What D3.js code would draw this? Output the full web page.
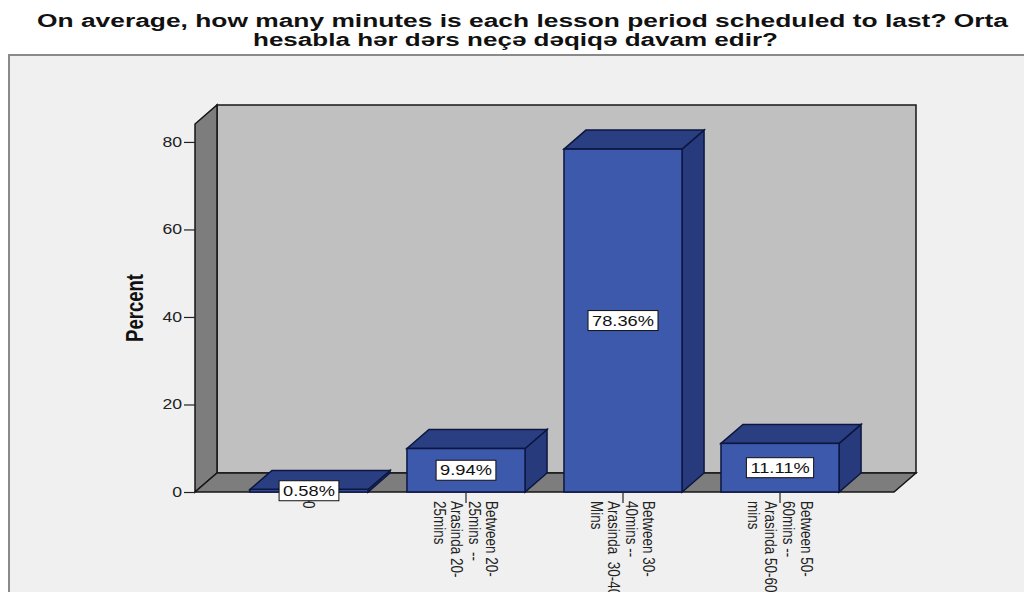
<!DOCTYPE html>
<html>
<head>
<meta charset="utf-8">
<script src="https://cdn.jsdelivr.net/npm/d3@7"></script>
<style>
  html, body { margin: 0; padding: 0; background: #ffffff; }
  svg { display: block; }
  text { font-family: "Liberation Sans", Arial, sans-serif; }
</style>
</head>
<body>
<svg id="chart" width="1024" height="592"></svg>
<script>
// ---- data ----
const titleLines = [
  "On average, how many minutes is each lesson period scheduled to last? Orta",
  "hesabla hər dərs neçə dəqiqə davam edir?"
];
const categories = ["0", "20-25", "30-40", "50-60"];
const categoryLabels = [
  ["0"],
  ["Between 20-", "25mins  --", "Arasinda 20-", "25mins"],
  ["Between 30-", "40mins --", "Arasinda  30-40", "Mins"],
  ["Between 50-", "60mins --", "Arasinda 50-60", "mins"]
];
const percents = [0.58, 9.94, 78.36, 11.11];
const valueLabels = ["0.58%", "9.94%", "78.36%", "11.11%"];
const yTicks = [0, 20, 40, 60, 80];
const yLabel = "Percent";

// ---- layout ----
const svg = d3.select("#chart");
const SX = 1.26;            // horizontal stretch used for all lettering
const DX = 22, DY = -19;    // 3D depth offset
const left = 195, right = 894, baseY = 492, topY = 124;

const x = d3.scaleBand().domain(categories).range([left, right])
  .paddingInner(0.248).paddingOuter(0.35);
const y = d3.scaleLinear().domain([0, 84.1]).range([baseY, topY]);

// outer frame
svg.append("rect").attr("x", 9).attr("y", 55).attr("width", 1030).attr("height", 560)
  .attr("fill", "#f0f0f0").attr("stroke", "#8a8a8a").attr("stroke-width", 2);

// title
svg.append("g").selectAll("text").data(titleLines).join("text")
  .attr("x", (d, i) => i === 0 ? 37 : 253)
  .attr("y", (d, i) => i === 0 ? 26.5 : 45.5)
  .attr("textLength", (d, i) => i === 0 ? 971 : 525)
  .attr("lengthAdjust", "spacingAndGlyphs")
  .attr("font-size", 18).attr("font-weight", "bold").attr("fill", "#111")
  .text(d => d);

const pts = a => a.map(p => p.join(",")).join(" ");
const edge = "#161616";

// back wall
svg.append("rect")
  .attr("x", left + DX).attr("y", topY + DY)
  .attr("width", right - left).attr("height", baseY - topY)
  .attr("fill", "#c0c0c0").attr("stroke", edge).attr("stroke-width", 1.5);
// left wall
svg.append("polygon")
  .attr("points", pts([[left, topY], [left + DX, topY + DY], [left + DX, baseY + DY], [left, baseY]]))
  .attr("fill", "#7d7d7d").attr("stroke", edge).attr("stroke-width", 1.5);
// floor
svg.append("polygon")
  .attr("points", pts([[left, baseY], [right, baseY], [right + DX, baseY + DY], [left + DX, baseY + DY]]))
  .attr("fill", "#7d7d7d").attr("stroke", edge).attr("stroke-width", 1.5);

// y axis
const yAxis = d3.axisLeft(y).tickValues(yTicks).tickSize(11).tickPadding(2);
const ga = svg.append("g").attr("transform", `translate(${left},0)`).call(yAxis);
ga.select(".domain").remove();
ga.selectAll(".tick line").attr("stroke", "#222").attr("stroke-width", 1.2);
ga.selectAll(".tick text")
  .attr("font-size", 14).attr("fill", "#222")
  .attr("font-family", "'Liberation Sans', Arial, sans-serif")
  .attr("transform", function () {
    // stretch about the right edge of the label
    const xx = +d3.select(this).attr("x");
    return `translate(${xx},0) scale(${SX},1) translate(${-xx},0)`;
  });

// y label
svg.append("text")
  .attr("transform", `translate(135,308) scale(${SX},1) rotate(-90)`)
  .attr("text-anchor", "middle").attr("dy", "0.35em")
  .attr("font-size", 18.5).attr("font-weight", "bold").attr("fill", "#111")
  .text(yLabel);

// bars
const bw = x.bandwidth();
const bars = svg.append("g").selectAll("g").data(categories).join("g");
bars.each(function (c, i) {
  const g = d3.select(this);
  const x0 = x(c), x1 = x0 + bw, yt = y(percents[i]), yb = y(0);
  g.append("polygon")
    .attr("points", pts([[x1, yt], [x1 + DX, yt + DY], [x1 + DX, yb + DY], [x1, yb]]))
    .attr("fill", "#273b7c").attr("stroke", "#0c1640").attr("stroke-width", 1.5);
  g.append("polygon")
    .attr("points", pts([[x0, yt], [x0 + DX, yt + DY], [x1 + DX, yt + DY], [x1, yt]]))
    .attr("fill", "#2a3f82").attr("stroke", "#0c1640").attr("stroke-width", 1.5);
  g.append("rect")
    .attr("x", x0).attr("y", yt).attr("width", bw).attr("height", yb - yt)
    .attr("fill", "#3d59ab").attr("stroke", "#0c1640").attr("stroke-width", 1.5);
});

// x ticks and category labels
const cx = c => x(c) + bw / 2;
svg.append("g").selectAll("line").data(categories).join("line")
  .attr("x1", cx).attr("x2", cx).attr("y1", baseY).attr("y2", baseY + 11)
  .attr("stroke", "#222").attr("stroke-width", 1.2);

const fsCat = 13.5, lhCat = 14;
categories.forEach((c, i) => {
  const lines = categoryLabels[i];
  const n = lines.length;
  const t = svg.append("text")
    .attr("transform", `translate(${cx(c)},${baseY + 9}) scale(${SX},1) rotate(90)`)
    .attr("font-size", fsCat).attr("fill", "#222");
  lines.forEach((ln, j) => {
    t.append("tspan").attr("x", 0)
      .attr("y", (j - (n - 1) / 2) * lhCat + 0.35 * fsCat)
      .attr("xml:space", "preserve")
      .text(ln);
  });
});

// value labels
const vl = svg.append("g").selectAll("g").data(categories).join("g")
  .attr("transform", (c, i) => `translate(${cx(c)},${(y(percents[i]) + y(0)) / 2})`);
vl.append("rect")
  .attr("x", -34).attr("y", -10).attr("height", 20)
  .attr("fill", "#ffffff").attr("stroke", "#111").attr("stroke-width", 1);
vl.append("text")
  .attr("transform", `scale(${SX},1)`)
  .attr("text-anchor", "middle").attr("dy", "0.36em")
  .attr("font-size", 14.5).attr("fill", "#111")
  .text((c, i) => valueLabels[i]);
vl.each(function () {
  const g = d3.select(this);
  const w = g.select("text").node().getComputedTextLength() * SX + 8;
  g.select("rect").attr("x", -w / 2).attr("width", w);
});
</script>
</body>
</html>
